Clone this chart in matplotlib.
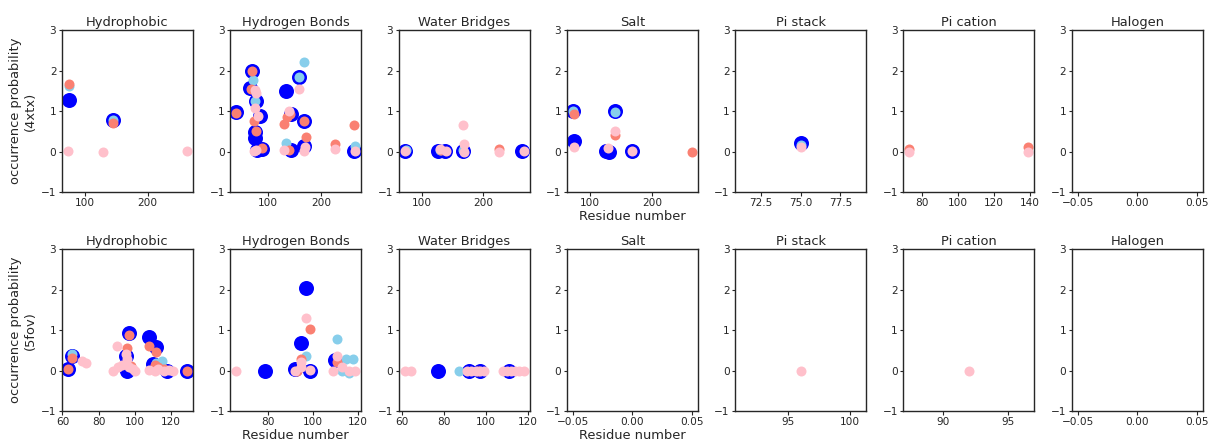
import matplotlib
matplotlib.use("Agg")
import matplotlib.pyplot as plt
import seaborn as sns

# interaction types (columns) and systems (rows)
titles = ["Hydrophobic", "Hydrogen Bonds", "Water Bridges", "Salt",
          "Pi stack", "Pi cation", "Halogen"]
systems = ["4xtx", "5fov"]
colors = ["blue", "skyblue", "salmon", "pink"]
sizes = [225, 100, 100, 100]

# ---- 4xtx ----
hyd_a_blue = ([74, 145], [1.27, 0.78])
hyd_a_sky = ([73, 145], [1.63, 0.78])
hyd_a_salmon = ([74, 145], [1.67, 0.70])
hyd_a_pink = ([72, 128, 263], [0.02, 0.0, 0.02])

hb_a_blue = ([41, 66, 71, 77, 76, 76, 80, 85, 90, 133, 143, 159, 168, 168, 143, 261],
             [0.98, 1.57, 2.0, 1.25, 0.49, 0.33, 0.03, 0.88, 0.06, 1.5, 0.92, 1.85, 0.76, 0.14, 0.03, 0.02])
hb_a_sky = ([72, 76, 159, 168, 134, 262], [1.78, 1.25, 1.85, 2.22, 0.22, 0.14])
hb_a_salmon = ([41, 68, 71, 74, 77, 90, 135, 131, 140, 168, 171, 226, 260, 142],
               [0.95, 1.55, 1.98, 0.76, 0.5, 0.08, 0.86, 0.68, 0.03, 0.76, 0.35, 0.18, 0.65, 0.93])
hb_a_pink = ([76, 78, 76, 82, 74, 78, 131, 140, 159, 169, 168, 226, 263],
             [1.52, 1.45, 1.09, 0.88, 0.02, 0.03, 0.05, 1.0, 1.56, 0.12, 0.02, 0.06, 0.02])

wb_a_blue = ([73, 127, 138, 168, 263], [0.02, 0.01, 0.01, 0.02, 0.02])
wb_a_sky = ([74, 130, 168], [0.05, 0.03, 0.05])
wb_a_salmon = ([132, 226], [0.03, 0.06])
wb_a_pink = ([72, 130, 140, 169, 169, 168, 226, 266], [0.02, 0.07, 0.02, 0.0, 0.2, 0.65, 0.0, 0.02])

salt_a_blue = ([73, 75, 126, 130, 140, 168], [1.0, 0.27, 0.02, 0.0, 1.0, 0.02])
salt_a_sky = ([74, 140], [1.0, 0.98])
salt_a_salmon = ([75, 140, 263], [0.94, 0.42, 0.0])
salt_a_pink = ([75, 129, 140, 168], [0.11, 0.09, 0.5, 0.02])

pis_a_blue = ([75], [0.22])
pis_a_sky = ([75], [0.17])
pis_a_salmon = ([], [])
pis_a_pink = ([75], [0.11])

pic_a_blue = ([], [])
pic_a_sky = ([], [])
pic_a_salmon = ([73, 139], [0.07, 0.12])
pic_a_pink = ([73, 139], [0.0, 0.0])

# ---- 5fov ----
hyd_b_blue = ([63, 65, 95, 96, 97, 108, 110, 112, 118, 129],
              [0.03, 0.35, 0.36, -0.02, 0.92, 0.83, 0.16, 0.58, 0.0, 0.0])
hyd_b_sky = ([65, 112, 115], [0.41, 0.2, 0.25])
hyd_b_salmon = ([63, 65, 96, 97, 98, 108, 111, 112, 113, 116, 129],
                [0.03, 0.32, 0.57, 0.88, 0.12, 0.6, 0.15, 0.47, 0.1, 0.05, 0.0])
hyd_b_pink = ([71, 73, 88, 90, 91, 93, 95, 96, 97, 99, 100, 108, 111, 113, 116, 119, 121],
              [0.25, 0.18, 0.0, 0.6, 0.1, 0.15, 0.4, 0.3, 0.1, 0.05, 0.0, 0.02, 0.0, 0.03, 0.0, 0.02, 0.0])

hb_b_blue = ([79, 92, 95, 97, 99, 110], [0.0, 0.03, 0.69, 2.03, 0.0, 0.26])
hb_b_sky = ([97, 111, 113, 115, 116, 118], [0.36, 0.78, 0.0, 0.28, -0.05, 0.30])
hb_b_salmon = ([93, 95, 99, 111], [0.0, 0.28, 1.02, 0.22])
hb_b_pink = ([66, 92, 95, 97, 99, 95, 109, 111, 113, 116, 119],
             [0.0, 0.0, 0.1, 1.31, 0.02, 0.22, 0.0, 0.36, 0.1, 0.0, 0.0])

wb_b_blue = ([77, 92, 97, 111], [0.0, 0.0, 0.0, 0.0])
wb_b_sky = ([87], [0.0])
wb_b_salmon = ([96], [0.0])
wb_b_pink = ([61, 64, 91, 93, 95, 97, 99, 108, 110, 112, 114, 116, 118],
             [0.0, 0.0, 0.0, 0.0, 0.0, 0.0, 0.0, 0.0, 0.0, 0.0, 0.0, 0.0, 0.0])

pis_b_pink = ([96], [0.0])
pic_b_pink = ([92], [0.0])
empty = ([], [])

rows = [
    [[hyd_a_blue, hyd_a_sky, hyd_a_salmon, hyd_a_pink],
     [hb_a_blue, hb_a_sky, hb_a_salmon, hb_a_pink],
     [wb_a_blue, wb_a_sky, wb_a_salmon, wb_a_pink],
     [salt_a_blue, salt_a_sky, salt_a_salmon, salt_a_pink],
     [pis_a_blue, pis_a_sky, pis_a_salmon, pis_a_pink],
     [pic_a_blue, pic_a_sky, pic_a_salmon, pic_a_pink],
     [empty, empty, empty, empty]],
    [[hyd_b_blue, hyd_b_sky, hyd_b_salmon, hyd_b_pink],
     [hb_b_blue, hb_b_sky, hb_b_salmon, hb_b_pink],
     [wb_b_blue, wb_b_sky, wb_b_salmon, wb_b_pink],
     [empty, empty, empty, empty],
     [empty, empty, empty, pis_b_pink],
     [empty, empty, empty, pic_b_pink],
     [empty, empty, empty, empty]],
]

sns.set_style("ticks")
plt.rcParams["font.family"] = ["DejaVu Sans"]

fig, axes = plt.subplots(2, 7, figsize=(1210 / 72, 444 / 72), dpi=72)
fig.subplots_adjust(left=0.0512, right=0.994, bottom=0.074, top=0.932,
                    wspace=0.285, hspace=0.352)

for r in range(2):
    for c in range(7):
        ax = axes[r, c]
        for (xs, ys), col, s in zip(rows[r][c], colors, sizes):
            ax.scatter(xs, ys, color=col, s=s, linewidths=0)
        ax.set_ylim(-1, 3)
        ax.set_yticks([-1, 0, 1, 2, 3])
        ax.set_title(titles[c], fontsize=13, pad=4)
        ax.tick_params(labelsize=10.5, length=3.5, width=1.1, pad=2)
        for sp in ax.spines.values():
            sp.set_linewidth(1.4)
        if all(len(xs) == 0 for xs, ys in rows[r][c]):
            ax.set_xlim(-0.055, 0.055)
            ax.set_xticks([-0.05, 0.0, 0.05])
    axes[r, 0].set_ylabel("occurrence probability\n(" + systems[r] + ")", fontsize=13)

axes[0, 3].set_xlabel("Residue number", fontsize=13, labelpad=2)
axes[1, 1].set_xlabel("Residue number", fontsize=13, labelpad=2)
axes[1, 3].set_xlabel("Residue number", fontsize=13, labelpad=2)

fig.savefig("out.png", dpi=72)
